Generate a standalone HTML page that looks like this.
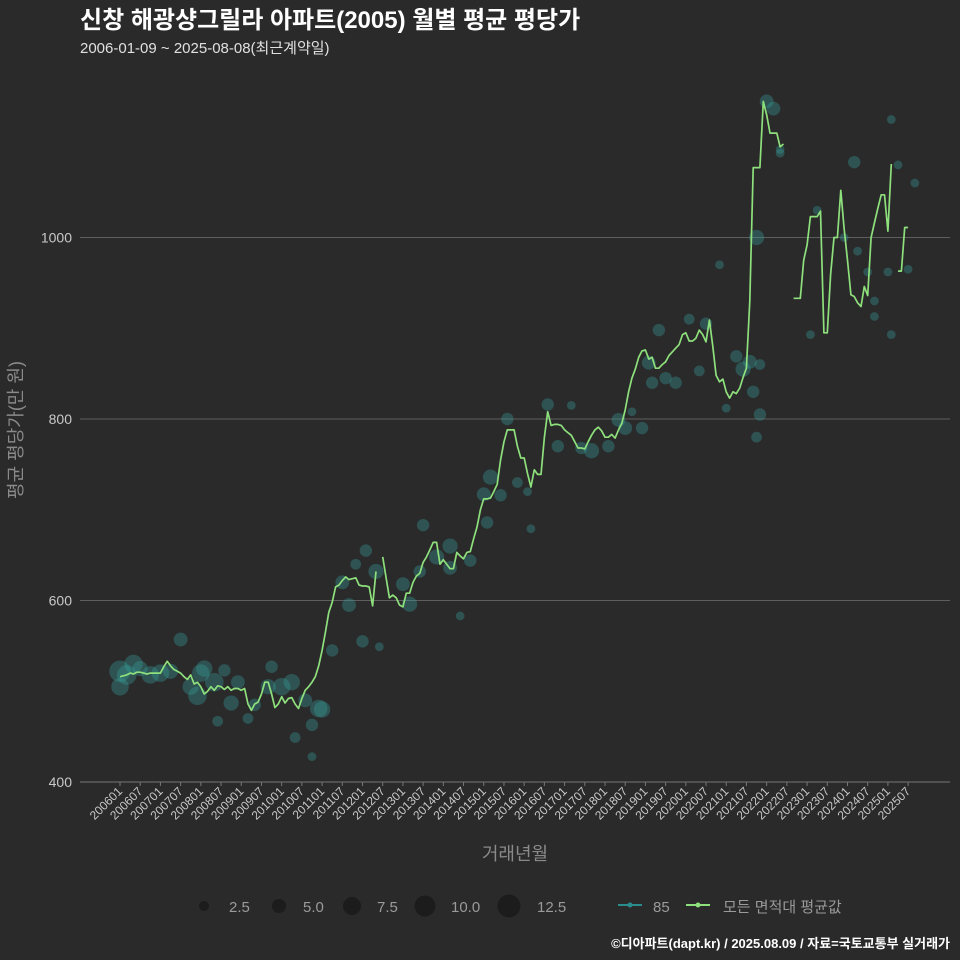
<!DOCTYPE html>
<html><head><meta charset="utf-8"><style>
html,body{margin:0;padding:0;background:#2a2a2b;}
svg{display:block;font-family:"Liberation Sans","Noto Sans CJK KR",sans-serif;}
</style></head><body>
<svg id="chart" width="960" height="960" viewBox="0 0 960 960" xmlns="http://www.w3.org/2000/svg">
<rect x="0" y="0" width="960" height="960" fill="#2a2a2b"/>
<text x="80" y="28" fill="#ffffff" font-size="24" font-weight="bold">신창 해광샹그릴라 아파트(2005) 월별 평균 평당가</text>
<text x="80" y="53" fill="#e0e0e0" font-size="15">2006-01-09 ~ 2025-08-08(최근계약일)</text>
<g id="grid"></g>
<g id="bubbles"></g>
<g id="lines"></g>
<g id="yticks"></g>
<g id="xticks"></g>
<text transform="translate(22,430) rotate(-90)" text-anchor="middle" fill="#8a8a8a" font-size="18">평균 평당가(만 원)</text>
<text x="515" y="860" text-anchor="middle" fill="#8a8a8a" font-size="18">거래년월</text>
<g font-size="15" fill="#9a9a9a">
<circle cx="204" cy="906" r="5" fill="#1c1c1c"/><text x="229" y="912">2.5</text>
<circle cx="279" cy="906" r="7" fill="#1c1c1c"/><text x="303" y="912">5.0</text>
<circle cx="352" cy="906" r="9" fill="#1c1c1c"/><text x="377" y="912">7.5</text>
<circle cx="425" cy="906" r="10.5" fill="#1c1c1c"/><text x="451" y="912">10.0</text>
<circle cx="509" cy="906" r="11.5" fill="#1c1c1c"/><text x="537" y="912">12.5</text>
<line x1="618" y1="905" x2="642" y2="905" stroke="#2a8c8c" stroke-width="2"/><circle cx="630" cy="905" r="2.5" fill="#2a8c8c"/><text x="653" y="912">85</text>
<line x1="686" y1="905" x2="710" y2="905" stroke="#8ee07c" stroke-width="2"/><circle cx="698" cy="905" r="2.5" fill="#8ee07c"/><text x="723" y="912">모든 면적대 평균값</text>
</g>
<text x="950" y="948" text-anchor="end" fill="#ffffff" font-size="13" font-weight="bold">©디아파트(dapt.kr) / 2025.08.09 / 자료=국토교통부 실거래가</text>
</svg>
<script>
const startYear = 2006, startMonth = 1;
const avgValues = [
516,517,518,520,519,521,521,520,519,520,520,520,
520,527,533,528,524,522,520,516,513,518,508,510,
505,497,500,505,501,506,505,502,505,501,503,503,
501,503,486,479,486,488,497,510,510,497,482,486,
494,487,492,493,486,481,492,501,505,510,516,528,
545,565,587,598,615,617,622,626,623,624,625,617,
616,616,615,594,632,null,648,625,603,606,603,595,
593,608,608,620,627,630,642,648,656,664,664,640,
645,640,635,635,653,649,646,653,654,668,681,700,
712,712,713,720,728,755,775,788,788,788,770,757,
757,740,725,744,739,739,780,808,793,794,794,793,
788,785,782,775,768,768,767,775,782,788,791,787,
780,780,783,779,788,795,810,830,845,855,868,875,
876,866,868,856,856,860,863,870,874,878,882,893,
895,886,886,889,898,893,885,909,880,848,841,844,
830,823,830,828,834,846,856,930,1077,1077,1077,1150,
1135,1115,1115,1115,1100,1103,null,null,933,933,933,975,
992,1023,1023,1023,1029,895,895,959,1000,1000,1052,1010,
975,937,935,928,924,946,936,1000,1016,1032,1047,1047,
1007,1081,null,963,963,1011,1011
];
const bubbleMonth = [0,0,2,4,6,9,12,15,18,21,23,24,25,28,29,31,33,35,38,40,44,45,48,51,55,57,57,60,52,63,59,66,68,70,73,72,76,77,84,86,89,90,94,98,98,101,104,108,109,110,113,115,118,121,122,127,130,134,137,140,145,148,150,152,155,157,158,160,162,165,169,172,174,180,178,183,185,189,188,190,190,187,189,192,194,196,196,218,205,207,215,219,224,222,224,228,229,229,231,234,236];
const bubbleValue = [505,522,518,530,525,518,520,522,557,505,495,520,525,510,467,523,487,510,470,485,505,527,505,510,490,463,428,480,449,545,481,620,595,640,655,555,632,549,618,596,632,683,648,660,636,583,644,717,686,736,716,800,730,720,679,816,770,815,768,765,770,799,790,808,790,862,840,898,845,840,910,853,905,812,970,869,855,780,830,805,860,863,1000,1150,1142,1097,1093,1083,893,1030,1000,985,930,962,913,962,893,1130,1080,965,1060];
const bubbleSize = [8,12,10,9,6,8,8,6,5,7,9,8,7,9,3,4,6,5,3,4,6,4,8,7,5,4,2,7,3,4,8,5,5,3,4,4,6,2,5,6,4,4,6,6,5,2,4,5,4,6,4,4,3,2,2,4,4,2,4,6,4,5,5,2,4,5,4,4,4,4,3,3,4,2,2,4,6,3,4,4,3,5,6,5,5,2,2,4,2,2,2,2,2,2,2,2,2,2,2,2,2];
const yTicks = [400,600,800,1000];
const xTickLabels = [];
for (let y = 2006; y <= 2025; y++) { xTickLabels.push(y + '01'); xTickLabels.push(y + '07'); }

const NS = 'http://www.w3.org/2000/svg';
function xScale(i){ return 120 + i * 3.368; }
function yScale(v){ return 782 - (v - 400) * 0.9075; }
function monthIndex(label){ return (parseInt(label.slice(0,4)) - startYear) * 12 + parseInt(label.slice(4)) - startMonth; }
function mk(tag, attrs, parent){ const e = document.createElementNS(NS, tag); for (const k in attrs) e.setAttribute(k, attrs[k]); parent.appendChild(e); return e; }

const grid = document.getElementById('grid');
const yt = document.getElementById('yticks');
yTicks.forEach(v => {
  const l = mk('line', {x1:80, x2:950, y1:yScale(v), y2:yScale(v), stroke: v===400 ? '#777' : '#5e5e5e', 'stroke-width':1}, grid);
  
  
  const t = mk('text', {x:72, y:yScale(v)+5, 'text-anchor':'end', fill:'#c8c8c8', 'font-size':14}, yt);
  
  
  t.textContent = v;
});
const xt = document.getElementById('xticks');
xTickLabels.forEach(lab => {
  const i = monthIndex(lab);
  if (i > 234) return;
  const x = xScale(i);
  mk('line', {x1:x, x2:x, y1:782, y2:786, stroke:'#777'}, xt);
  const t = mk('text', {transform:'translate(' + (x+3) + ',792) rotate(-45)', 'text-anchor':'end', fill:'#c8c8c8', 'font-size':12}, xt);
  
  
  t.textContent = lab;
});
const bg = document.getElementById('bubbles');
bubbleMonth.forEach((m, k) => {
  const c = mk('circle', {cx:xScale(m), cy:yScale(bubbleValue[k]), r:Math.sqrt(bubbleSize[k])*3.1, fill:'rgba(54,160,155,0.35)'}, bg);
  
  
});
const lg = document.getElementById('lines');
let d = '', pen = false;
avgValues.forEach((v, i) => {
  if (v === null) { pen = false; return; }
  d += (pen ? 'L' : 'M') + xScale(i).toFixed(1) + ' ' + yScale(v).toFixed(1) + ' ';
  pen = true;
});
const p = mk('path', {d:d, fill:'none', stroke:'#8ee07c', 'stroke-width':1.7, 'stroke-linejoin':'round'}, lg);


</script>
</body></html>
